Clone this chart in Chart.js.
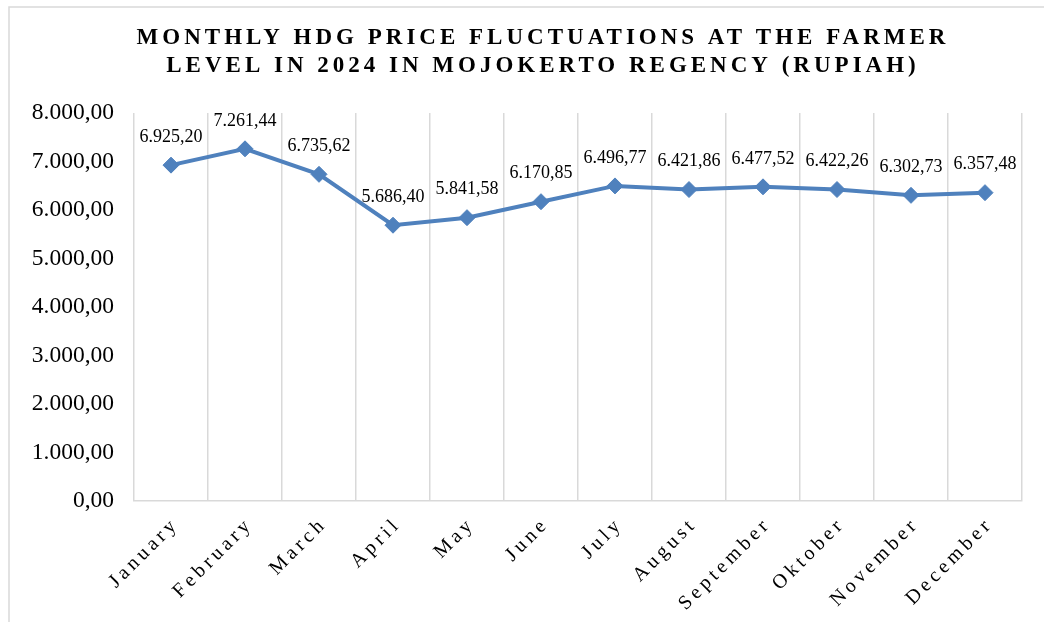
<!DOCTYPE html>
<html>
<head>
<meta charset="utf-8">
<script src="https://cdn.jsdelivr.net/npm/chart.js@4.4.1/dist/chart.umd.min.js"></script>
<style>
  html, body { margin: 0; padding: 0; background: #fff; }
  #wrap { position: relative; width: 1044px; height: 623px; }
</style>
</head>
<body>
<div id="wrap"><canvas id="chart" width="1044" height="623"></canvas></div>
<script>
const months = ["January", "February", "March", "April", "May", "June", "July", "August", "September", "Oktober", "November", "December"];
const prices = [6925.20, 7261.44, 6735.62, 5686.40, 5841.58, 6170.85, 6496.77, 6421.86, 6477.52, 6422.26, 6302.73, 6357.48];
const titleLines = ["MONTHLY HDG PRICE FLUCTUATIONS AT THE FARMER", "LEVEL IN 2024 IN MOJOKERTO REGENCY (RUPIAH)"];

const serif = "'Liberation Serif', 'Times New Roman', serif";
const lineColor = "#4f81bd";
const gridColor = "#d9d9d9";

// 7261.44 -> "7.261,44"
function rupiah(v) {
  let parts = Number(v).toFixed(2).split(".");
  let whole = parts[0].replace(/\B(?=(\d{3})+(?!\d))/g, ".");
  return whole + "," + parts[1];
}

const decorPlugin = {
  id: "decor",
  beforeDraw(chart) {
    const ctx = chart.ctx;
    ctx.save();
    ctx.strokeStyle = gridColor;
    ctx.lineWidth = 1.5;
    ctx.beginPath();
    ctx.moveTo(9, 622);
    ctx.lineTo(9, 7);
    ctx.lineTo(1044, 7);
    ctx.stroke();

    // title
    ctx.fillStyle = "#000";
    ctx.font = "bold 23px " + serif;
    ctx.letterSpacing = "4px";
    ctx.textAlign = "center";
    ctx.textBaseline = "alphabetic";
    ctx.fillText(titleLines[0], 543, 44);
    ctx.fillText(titleLines[1], 543, 72);
    ctx.restore();
  },
  afterDraw(chart) {
    const ctx = chart.ctx;
    const x = chart.scales.x;
    const meta = chart.getDatasetMeta(0);
    ctx.save();
    // value labels
    ctx.fillStyle = "#000";
    ctx.font = "18px " + serif;
    ctx.textAlign = "center";
    ctx.textBaseline = "middle";
    meta.data.forEach((pt, i) => {
      ctx.fillText(rupiah(prices[i]), pt.x, pt.y - 28);
    });
    // month labels, rotated
    ctx.font = "20px " + serif;
    ctx.letterSpacing = "4px";
    ctx.textAlign = "right";
    months.forEach((m, i) => {
      const px = x.getPixelForTick(i);
      ctx.save();
      ctx.translate(px + 5, chart.chartArea.bottom + 20);
      ctx.rotate(-Math.PI / 4);
      ctx.fillText(m, 0, 0);
      ctx.restore();
    });
    ctx.restore();
  }
};

new Chart(document.getElementById("chart"), {
  type: "line",
  plugins: [decorPlugin],
  data: {
    labels: months,
    datasets: [{
      data: prices,
      borderColor: lineColor,
      backgroundColor: lineColor,
      borderWidth: 4,
      pointStyle: "rectRot",
      pointRadius: 8,
      pointBorderWidth: 1,
      pointBorderColor: lineColor,
      tension: 0
    }]
  },
  options: {
    responsive: false,
    animation: false,
    layout: { padding: { top: 113, left: 10, right: 22, bottom: 122 } },
    plugins: {
      legend: { display: false },
      title: { display: false },
      tooltip: { enabled: false }
    },
    scales: {
      x: {
        offset: true,
        grid: { offset: true, color: gridColor, lineWidth: 1.5, drawTicks: false },
        border: { display: true, color: gridColor, width: 1.5 },
        ticks: { display: false }
      },
      y: {
        min: 0,
        max: 8000,
        afterFit(scale) { scale.width = 124; },
        grid: { display: false, drawTicks: false },
        border: { display: false },
        ticks: {
          stepSize: 1000,
          padding: 20,
          color: "#000",
          font: { family: serif, size: 23.5 },
          callback: (v) => rupiah(v)
        }
      }
    }
  }
});
</script>
</body>
</html>
